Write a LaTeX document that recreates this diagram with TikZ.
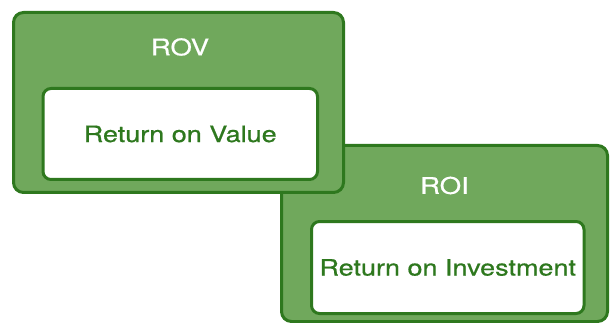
\documentclass[tikz,border=0pt]{standalone}
\usepackage{fontspec}
\setmainfont{TeX Gyre Heros}
\newfontfamily\boxfont[FakeBold=0.6]{TeX Gyre Heros}
\usepackage{graphicx}
\usetikzlibrary{positioning}

\definecolor{leafgreen}{RGB}{112,168,92}
\definecolor{darkleaf}{RGB}{46,120,30}
\newcommand{\widetext}[1]{\scalebox{1.2}[1]{#1}}

\tikzset{
  outerbox/.style={draw=darkleaf, fill=leafgreen, line width=3pt, rounded corners=10pt, inner sep=0pt},
  innerbox/.style={draw=darkleaf, fill=white, line width=3pt, rounded corners=8pt, inner sep=0pt,
    text=darkleaf, font=\boxfont\fontsize{22.5}{26}\selectfont},
  boxtitle/.style={text=white, inner sep=0pt, font=\boxfont\fontsize{23}{26}\selectfont}
}

\begin{document}
\begin{tikzpicture}[x=1pt,y=-1pt]
\useasboundingbox (0,0) rectangle (610,323);
% investment box goes first, the value box overlaps its corner
\node[outerbox, minimum width=326pt, minimum height=176pt] (roi) at (444.5,233.5) {};
\node[innerbox, minimum width=272.5pt, minimum height=92pt] (roiin) at (447.75,267.5) {\widetext{Return on Investment}};
\node[boxtitle] (roititle) at (444.5,185.5) {\widetext{ROI}};
\node[outerbox, minimum width=330pt, minimum height=180pt] (rov) at (178.5,102.5) {};
\node[innerbox, minimum width=274.5pt, minimum height=91pt] (rovin) at (180.25,134) {\widetext{Return on Value}};
\node[boxtitle] (rovtitle) at (180,47) {\widetext{ROV}};
\end{tikzpicture}
\end{document}
